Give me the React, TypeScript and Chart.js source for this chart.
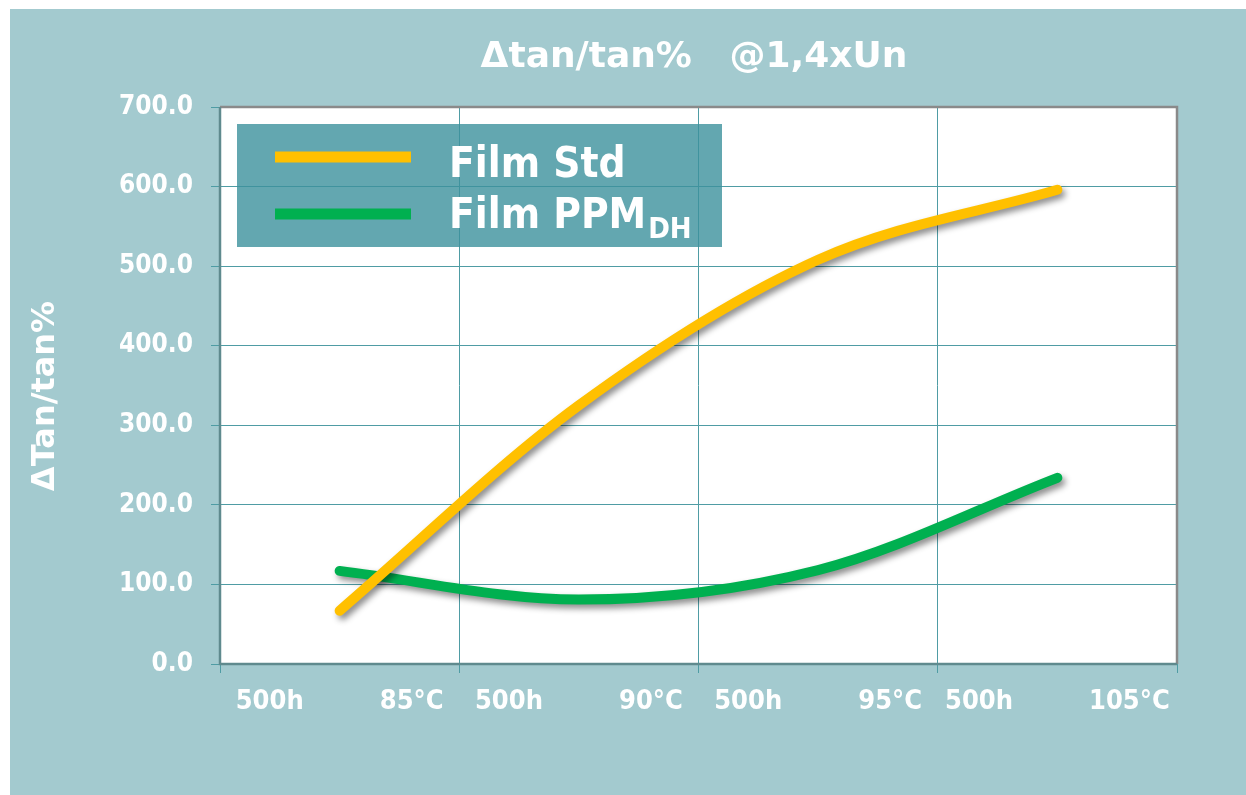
import React, { useEffect, useRef } from "react";
import { Chart, registerables } from "chart.js";

Chart.register(...registerables);

const categories = ["500h         85°C", "500h         90°C", "500h         95°C", "500h         105°C"];
const filmStd = [67, 325, 508, 596];
const filmPPM = [117, 81, 118, 234];
const yTicks = [0, 100, 200, 300, 400, 500, 600, 700];
const chartTitle = "Δtan/tan%   @1,4xUn";
const yTitle = "ΔTan/tan%";
const legendStd = "Film Std";
const legendPPM = "Film PPM";
const legendSub = "DH";

const FONT = "'DejaVu Sans Condensed', 'DejaVu Sans', sans-serif";
const FONT_WIDE = "'DejaVu Sans', sans-serif";
const BG = "#a3cacf";
const GRID = "#4f9ca4";
const ORANGE = "#FFC000";
const GREEN = "#00B050";

export default function App() {
  const ref = useRef<HTMLCanvasElement | null>(null);
  useEffect(() => {
    if (!ref.current) return;
    const bgPlugin = {
      id: "bgPlugin",
      beforeDraw(chart: any) {
        const ctx = chart.ctx;
        ctx.save();
        ctx.fillStyle = "#ffffff";
        ctx.fillRect(0, 0, chart.width, chart.height);
        ctx.fillStyle = BG;
        ctx.fillRect(10, 9, chart.width - 10, chart.height - 9);
        const a = chart.chartArea;
        ctx.fillStyle = "#ffffff";
        ctx.fillRect(a.left, a.top, a.right - a.left, a.bottom - a.top);
        ctx.restore();
      },
      afterDatasetsDraw(chart: any) {
        const ctx = chart.ctx;
        const a = chart.chartArea;
        ctx.save();
        ctx.strokeStyle = "#8a8a8a";
        ctx.lineWidth = 2.5;
        ctx.beginPath();
        ctx.moveTo(a.left, a.top);
        ctx.lineTo(a.right, a.top);
        ctx.lineTo(a.right, a.bottom);
        ctx.stroke();
        ctx.strokeStyle = "#5f8a8e";
        ctx.beginPath();
        ctx.moveTo(a.left, a.top);
        ctx.lineTo(a.left, a.bottom);
        ctx.lineTo(a.right, a.bottom);
        ctx.stroke();
        // title
        ctx.fillStyle = "#ffffff";
        ctx.font = `bold 36px ${FONT_WIDE}`;
        ctx.textAlign = "center";
        ctx.textBaseline = "alphabetic";
        ctx.fillText(chartTitle, 694, 67);
        // y title
        ctx.save();
        ctx.translate(54, 396);
        ctx.rotate(-Math.PI / 2);
        ctx.font = `bold 32px ${FONT_WIDE}`;
        ctx.textAlign = "center";
        ctx.textBaseline = "alphabetic";
        ctx.fillText(yTitle, 0, 0);
        ctx.restore();
        // legend
        ctx.fillStyle = "rgba(60,145,156,0.8)";
        ctx.fillRect(237, 124, 485, 123);
        ctx.lineCap = "butt";
        ctx.lineWidth = 11;
        ctx.strokeStyle = ORANGE;
        ctx.beginPath();
        ctx.moveTo(275, 157);
        ctx.lineTo(411, 157);
        ctx.stroke();
        ctx.strokeStyle = GREEN;
        ctx.beginPath();
        ctx.moveTo(275, 214);
        ctx.lineTo(411, 214);
        ctx.stroke();
        ctx.fillStyle = "#ffffff";
        ctx.textAlign = "left";
        ctx.font = `bold 42px ${FONT}`;
        ctx.fillText(legendStd, 449, 177);
        ctx.fillText(legendPPM, 449, 228);
        const w = ctx.measureText(legendPPM).width;
        ctx.font = `bold 29px ${FONT}`;
        ctx.fillText(legendSub, 449 + w + 2, 238);
        ctx.restore();
      },
    };
    const shadowPlugin = {
      id: "shadowPlugin",
      beforeDatasetDraw(chart: any) {
        const ctx = chart.ctx;
        ctx.save();
        ctx.shadowColor = "rgba(0,0,0,0.45)";
        ctx.shadowBlur = 6;
        ctx.shadowOffsetX = 3;
        ctx.shadowOffsetY = 4;
      },
      afterDatasetDraw(chart: any) {
        chart.ctx.restore();
      },
    };
    const common = {
      borderWidth: 10,
      borderCapStyle: "round",
      pointRadius: 0,
      cubicInterpolationMode: "monotone",
      fill: false,
    };
    const chart = new Chart(ref.current, {
      type: "line",
      data: {
        labels: categories,
        datasets: [
          { label: legendStd, data: filmStd, borderColor: ORANGE, backgroundColor: ORANGE, ...common },
          { label: legendPPM, data: filmPPM, borderColor: GREEN, backgroundColor: GREEN, ...common },
        ],
      },
      options: {
        animation: false,
        responsive: false,
        maintainAspectRatio: false,
        layout: { padding: { top: 107, right: 69, left: 0, bottom: 0 } },
        plugins: {
          legend: { display: false },
          title: { display: false },
          tooltip: { enabled: false },
        },
        scales: {
          x: {
            offset: true,
            grid: { offset: true, color: GRID, lineWidth: 1, tickLength: 9, drawTicks: true },
            border: { display: false },
            ticks: {
              color: "#ffffff",
              font: { family: FONT, size: 27, weight: "bold" },
              padding: 13,
              maxRotation: 0,
              autoSkip: false,
            },
            afterFit(scale: any) {
              scale.height = 131;
            },
          },
          y: {
            min: 0,
            max: 700,
            afterBuildTicks(scale: any) {
              scale.ticks = yTicks.map((v) => ({ value: v }));
            },
            grid: { color: GRID, lineWidth: 1, tickLength: 9 },
            border: { display: false },
            ticks: {
              color: "#ffffff",
              font: { family: FONT, size: 26, weight: "bold" },
              padding: 18,
              callback: (v: any) => Number(v).toFixed(1),
            },
            afterFit(scale: any) {
              scale.width = 220;
            },
          },
        },
      },
      plugins: [bgPlugin, shadowPlugin],
    } as any);
    return () => chart.destroy();
  }, []);
  return (
    <div style={{ position: "fixed", left: 0, top: 0, width: 1246, height: 795 }}>
      <canvas ref={ref} width={1246} height={795} style={{ width: 1246, height: 795, display: "block" }} />
    </div>
  );
}
